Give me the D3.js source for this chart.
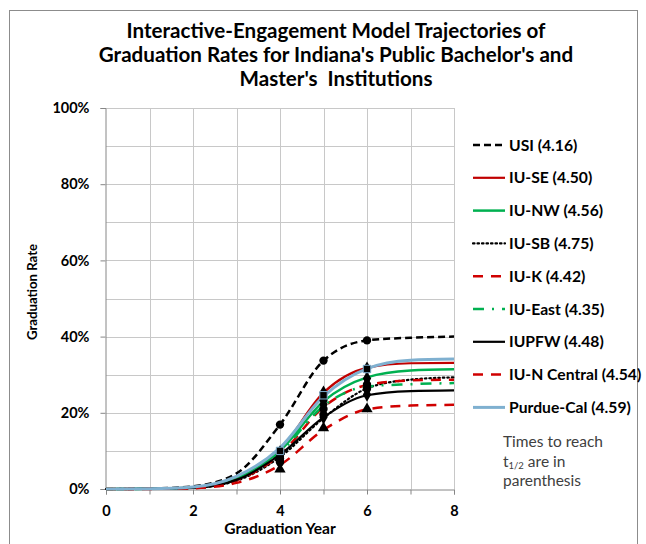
<!DOCTYPE html>
<html>
<head>
<meta charset="utf-8">
<script src="https://cdn.jsdelivr.net/npm/d3@7"></script>
<style>
  body { margin: 0; background: #fff; }
  svg { display: block; font-family: Lato, 'Open Sans', sans-serif; }
</style>
</head>
<body>
<svg id="chart" width="646" height="544"></svg>
<script>
// model trajectories, graduation rate (%) at each year
var years = [0, 1, 2, 3, 4, 5, 6, 7, 8]
var usi = [0, 0.1, 0.7, 4.1, 16.9, 33.7, 39.0, 39.7, 40.0]
var iuSE = [0, 0.05, 0.4, 2.9, 10.3, 25.3, 31.8, 33.0, 33.1]
var iuNW = [0, 0.05, 0.4, 2.8, 10.0, 23.0, 29.3, 31.1, 31.4]
var iuSB = [0, 0.05, 0.3, 2.2, 8.4, 18.6, 26.4, 28.7, 29.3]
var iuK = [0, 0.05, 0.3, 2.3, 9.0, 21.5, 27.3, 28.5, 28.7]
var iuEast = [0, 0.05, 0.4, 2.8, 9.6, 21.8, 26.9, 27.5, 27.8]
var iupfw = [0, 0.05, 0.3, 2.4, 9.0, 18.8, 24.6, 25.7, 25.9]
var iuNCentral = [0, 0.02, 0.2, 1.6, 6.3, 15.5, 20.9, 21.9, 22.1]
var purdueCal = [0, 0.05, 0.5, 3.3, 10.8, 24.3, 31.6, 33.8, 34.1]

// observed rates at years 4, 5 and 6
var obsYears = [4, 5, 6]
var obsUsi = [16.9, 33.7, 39.0]
var obsIuSE = [9.6, 25.3, 31.6]
var obsIuNW = [9.0, 23.2, 29.0]
var obsIuSB = [7.0, 19.5, 27.3]
var obsIuK = [8.0, 21.0, 26.3]
var obsIuEast = [8.5, 22.2, 27.6]
var obsIupfw = [7.5, 18.8, 24.8]
var obsIuNCentral = [5.2, 16.0, 21.0]
var obsPurdueCal = [10.0, 24.6, 31.5]

var xTicks = [0, 2, 4, 6, 8]
var yTicks = [0, 20, 40, 60, 80, 100]

var titleLines = [
  'Interactive-Engagement Model Trajectories of',
  "Graduation Rates for Indiana's Public Bachelor's and",
  "Master's  Institutions"
]

var series = [
  { name: 'USI (4.16)', values: usi, obs: obsUsi, color: '#000', width: 2.5, dash: '7,4', marker: 'circle' },
  { name: 'IU-SE (4.50)', values: iuSE, obs: obsIuSE, color: '#c00000', width: 2.2, dash: null, marker: 'diamond' },
  { name: 'IU-NW (4.56)', values: iuNW, obs: obsIuNW, color: '#00b050', width: 2.5, dash: null, marker: 'diamond' },
  { name: 'IU-SB (4.75)', values: iuSB, obs: obsIuSB, color: '#000', width: 2.2, dash: '1.5,3', marker: 'circle' },
  { name: 'IU-K (4.42)', values: iuK, obs: obsIuK, color: '#d00000', width: 2.5, dash: '10,8', marker: 'circle' },
  { name: 'IU-East (4.35)', values: iuEast, obs: obsIuEast, color: '#00b050', width: 2.5, dash: '11,8,2,8', marker: 'diamond' },
  { name: 'IUPFW (4.48)', values: iupfw, obs: obsIupfw, color: '#000', width: 2.2, dash: null, marker: 'diamond' },
  { name: 'IU-N Central (4.54)', values: iuNCentral, obs: obsIuNCentral, color: '#d00000', width: 2.5, dash: '10,8', marker: 'triangle' },
  { name: 'Purdue-Cal (4.59)', values: purdueCal, obs: obsPurdueCal, color: '#7fb0d0', width: 3, dash: null, marker: 'square' }
]

var svg = d3.select('#chart')

// outer chart frame
svg.append('rect')
  .attr('x', 9.5).attr('y', 10.5)
  .attr('width', 628).attr('height', 560)
  .attr('fill', 'none')
  .attr('stroke', '#8c8c8c')

var plot = { left: 106, right: 454, top: 108, bottom: 489 }

var x = d3.scaleLinear().domain([0, 8]).range([plot.left, plot.right])
var y = d3.scaleLinear().domain([0, 100]).range([plot.bottom, plot.top])

// title
svg.append('g')
  .selectAll('text')
  .data(titleLines)
  .join('text')
  .attr('x', 336)
  .attr('y', (d, i) => 38 + i * 24)
  .attr('text-anchor', 'middle')
  .attr('font-size', 20.6)
  .attr('font-weight', 'bold')
  .attr('fill', '#000')
  .style('white-space', 'pre')
  .text((d) => d)

// gridlines
var grid = svg.append('g').attr('stroke', '#c8c8c8').attr('stroke-width', 1)
grid.selectAll('.gx')
  .data(d3.range(1, 9))
  .join('line')
  .attr('x1', (d) => Math.round(x(d)) + 0.5)
  .attr('x2', (d) => Math.round(x(d)) + 0.5)
  .attr('y1', plot.top)
  .attr('y2', plot.bottom)
grid.selectAll('.gy')
  .data(d3.range(10, 101, 10))
  .join('line')
  .attr('x1', plot.left)
  .attr('x2', plot.right)
  .attr('y1', (d) => Math.round(y(d)) + 0.5)
  .attr('y2', (d) => Math.round(y(d)) + 0.5)

// axes
var xAxis = svg.append('g')
  .attr('transform', 'translate(0,' + (plot.bottom + 0.5) + ')')
  .call(d3.axisBottom(x).tickValues(d3.range(0, 9)).tickSize(5).tickFormat((d) => xTicks.includes(d) ? d : ''))
var yAxis = svg.append('g')
  .attr('transform', 'translate(' + (plot.left - 0.5) + ',0)')
  .call(d3.axisLeft(y).tickValues(yTicks).tickSize(5).tickFormat((d) => d + '%'))

;[xAxis, yAxis].forEach(function (a) {
  a.select('.domain').attr('stroke', '#868686')
  a.selectAll('.tick line').attr('stroke', '#868686')
  a.selectAll('.tick text')
    .attr('font-family', 'Lato, sans-serif')
    .attr('font-size', 14.5)
    .attr('font-weight', 'bold')
    .attr('fill', '#000')
})
xAxis.selectAll('.tick text').attr('dy', '1.25em')
yAxis.selectAll('.tick text').attr('x', -16)

svg.append('text')
  .attr('x', 280).attr('y', 534)
  .attr('text-anchor', 'middle')
  .attr('font-size', 15.6).attr('font-weight', 'bold')
  .text('Graduation Year')

svg.append('text')
  .attr('transform', 'translate(37,' + 292 + ') rotate(-90)')
  .attr('text-anchor', 'middle')
  .attr('font-size', 13.2).attr('font-weight', 'bold')
  .text('Graduation Rate')

// model lines
var line = d3.line()
  .x((d, i) => x(years[i]))
  .y((d) => y(d))
  .curve(d3.curveMonotoneX)

svg.append('g')
  .selectAll('path')
  .data(series)
  .join('path')
  .attr('d', (d) => line(d.values))
  .attr('fill', 'none')
  .attr('stroke', (d) => d.color)
  .attr('stroke-width', (d) => d.width)
  .attr('stroke-dasharray', (d) => d.dash)
  .attr('stroke-linecap', (d) => d.dash === '1.5,3' ? 'round' : 'butt')

// observed markers
var symbolType = {
  circle: d3.symbolCircle,
  diamond: d3.symbolDiamond,
  triangle: d3.symbolTriangle,
  square: d3.symbolSquare
}
var markers = svg.append('g')
series.forEach(function (s) {
  markers.selectAll(null)
    .data(s.obs)
    .join('path')
    .attr('transform', (d, i) => 'translate(' + x(obsYears[i]) + ',' + y(d) + ')')
    .attr('d', d3.symbol().type(symbolType[s.marker]).size(s.marker === 'diamond' ? 60 : 55))
    .attr('fill', '#000')
    .attr('stroke', s.marker === 'square' ? s.color : 'none')
    .attr('stroke-width', 1)
})

// legend
var legend = svg.append('g')
  .selectAll('g')
  .data(series)
  .join('g')
  .attr('transform', (d, i) => 'translate(473,' + (145 + i * 32.8) + ')')

legend.append('line')
  .attr('x1', 0).attr('x2', 32)
  .attr('stroke', (d) => d.color)
  .attr('stroke-width', (d) => d.width)
  .attr('stroke-dasharray', (d) => d.dash)
  .attr('stroke-linecap', (d) => d.dash === '1.5,3' ? 'round' : 'butt')

legend.append('text')
  .attr('x', 36).attr('y', 5.5)
  .attr('font-size', 15.7).attr('font-weight', 'bold')
  .text((d) => d.name)

// note, one text element per line so they don't collide
var noteGroup = svg.append('g')
  .attr('font-size', 15.5).attr('fill', '#404040')
noteGroup.append('text').attr('x', 503).attr('y', 447).text('Times to reach')
var t2 = noteGroup.append('text').attr('x', 503).attr('y', 466.5)
t2.append('tspan').text('t')
t2.append('tspan').attr('font-size', 9.5).attr('dy', 2).text('1/2')
t2.append('tspan').attr('dy', -2).text(' are in')
noteGroup.append('text').attr('x', 503).attr('y', 486).text('parenthesis')
</script>
</body>
</html>
